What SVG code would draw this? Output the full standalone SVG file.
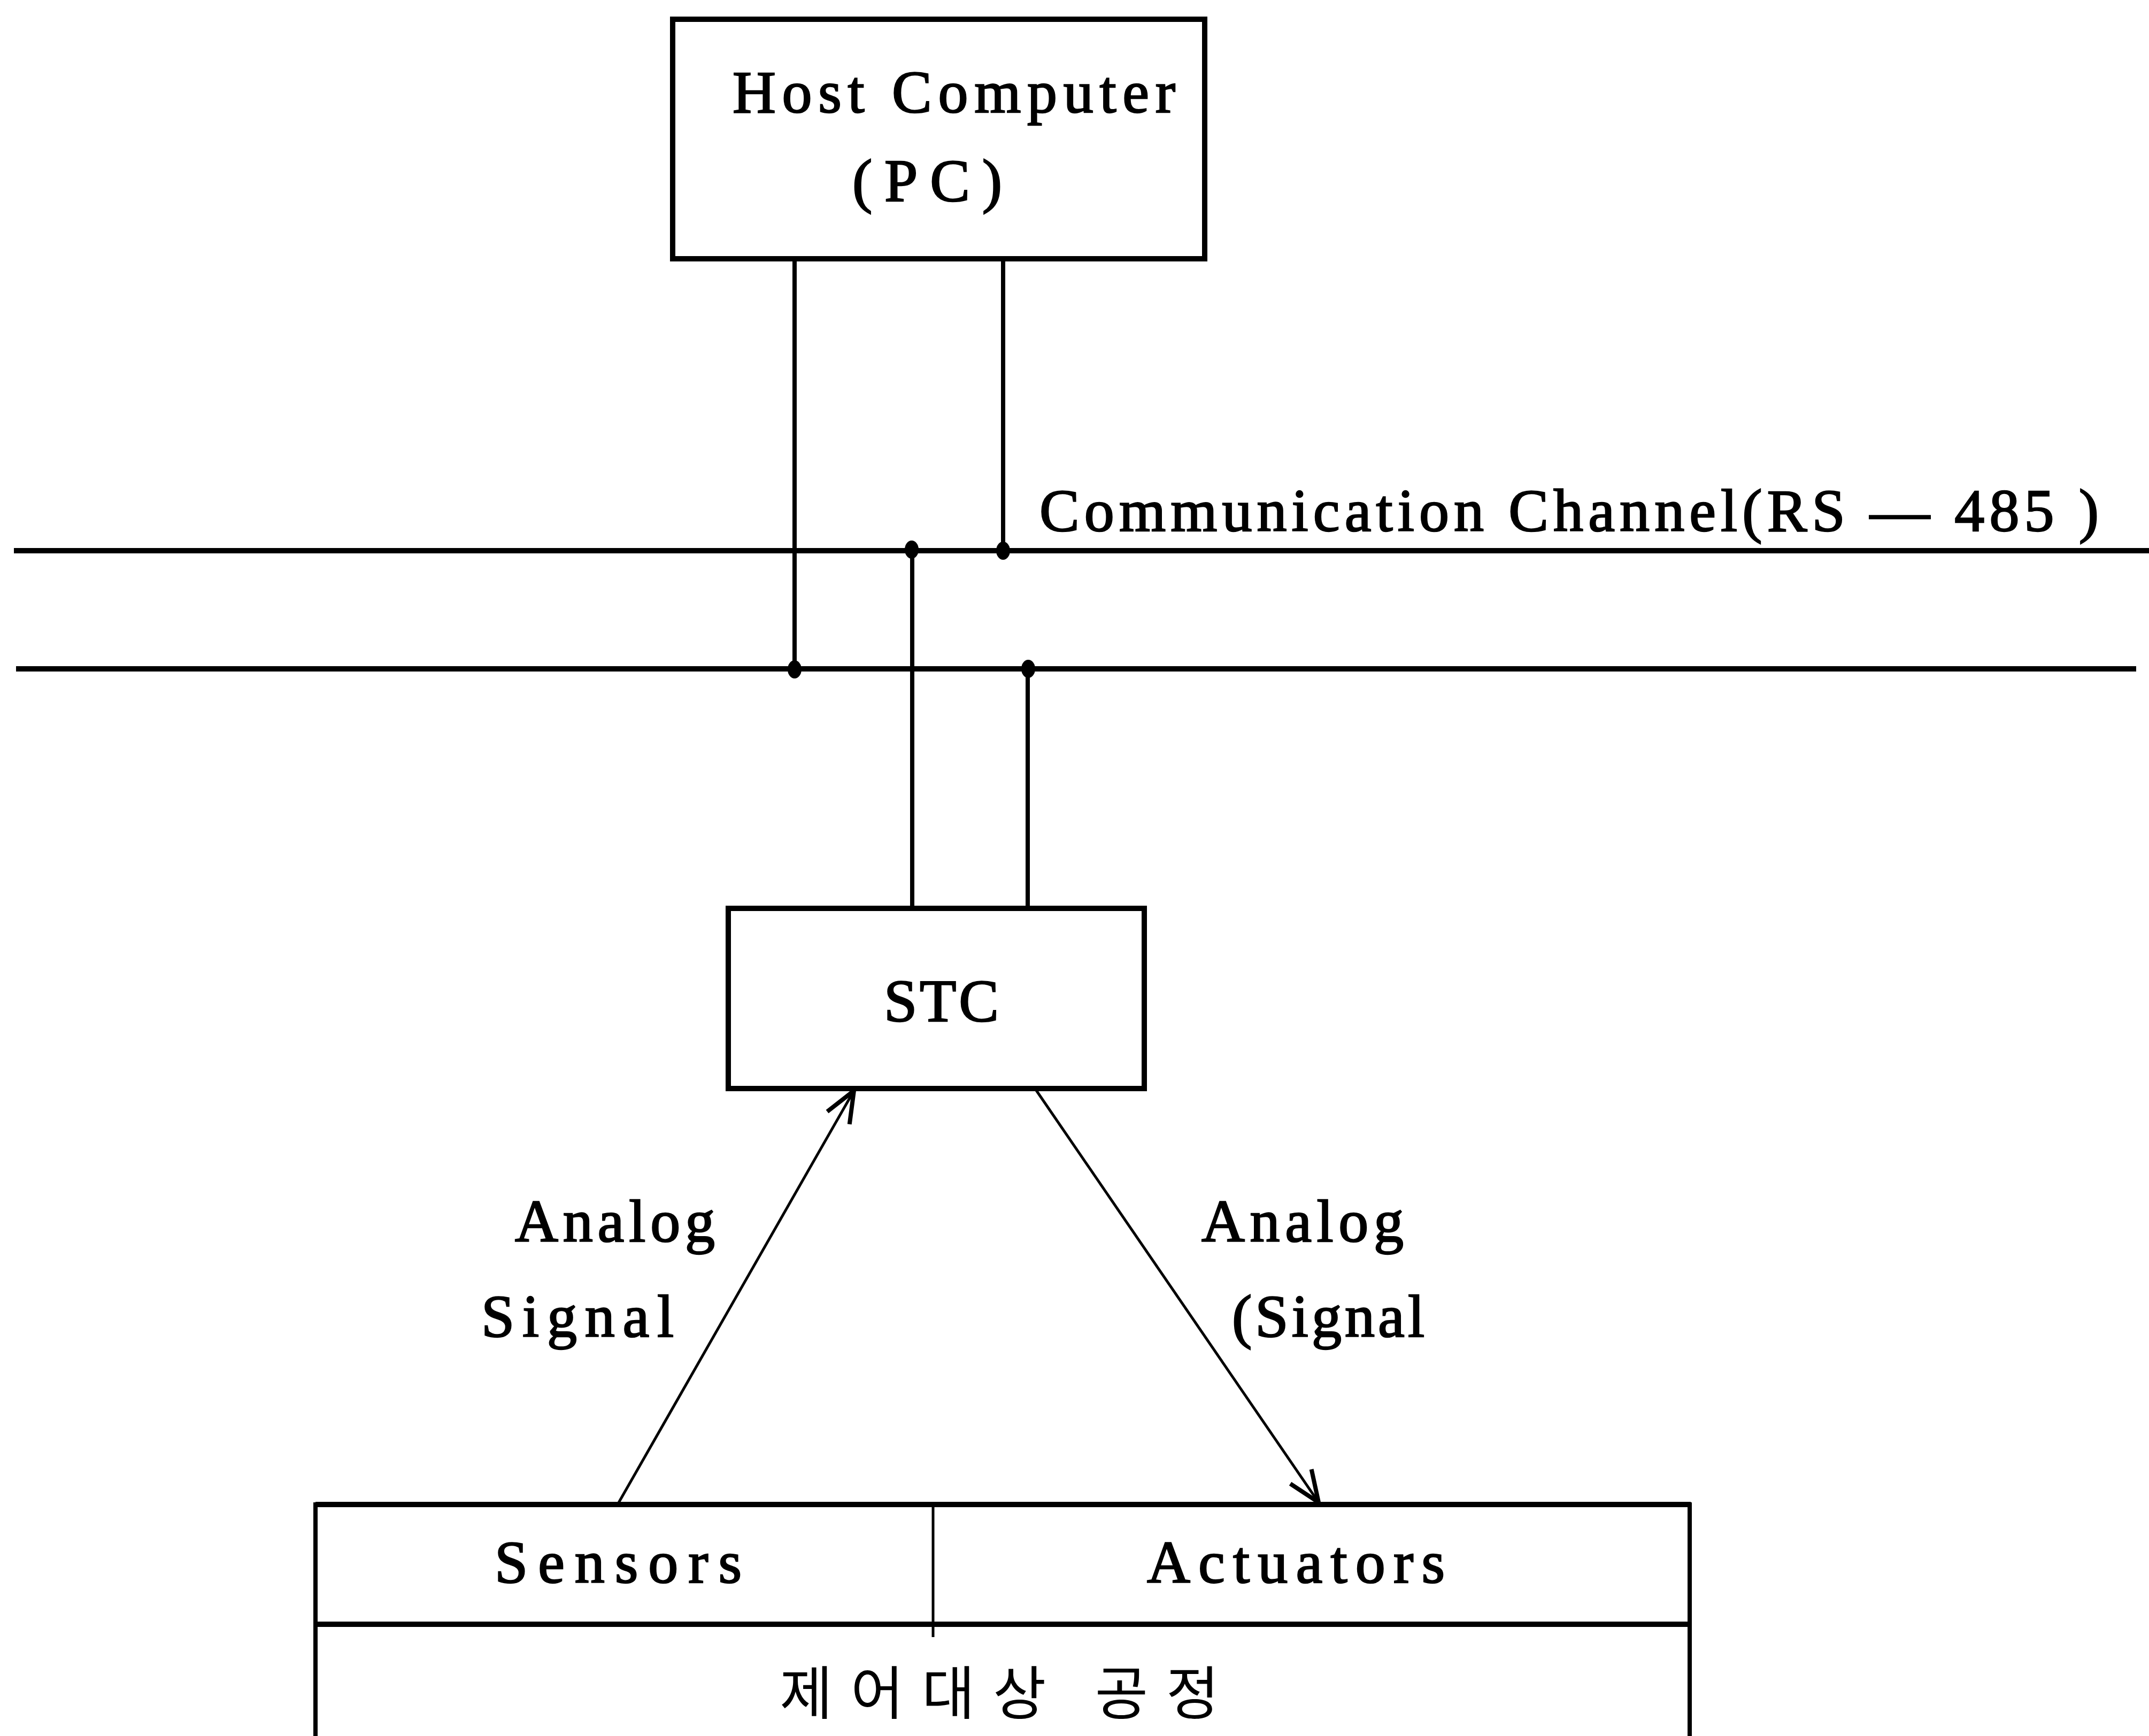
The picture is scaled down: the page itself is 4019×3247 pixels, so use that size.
<svg xmlns="http://www.w3.org/2000/svg" width="4019" height="3247" viewBox="0 0 4019 3247">
  <style>
    .box { fill: #fff; stroke: #000; stroke-width: 10; }
    .wire { fill: none; stroke: #000; stroke-width: 8; }
    .bus { fill: none; stroke: #000; stroke-width: 10; }
    .sig { fill: none; stroke: #000; stroke-width: 5; }
    .dot { fill: #000; }
    .lbl { font-family: "Liberation Serif", "DejaVu Serif", serif; font-size: 112px; fill: #000; stroke: #000; stroke-width: 2.5; }
    .kr { font-family: "Noto Sans CJK KR", sans-serif; font-size: 108px; fill: #000; }
  </style>
  <defs>
    <marker id="openArrow" markerUnits="userSpaceOnUse" markerWidth="80" markerHeight="80" viewBox="-50 -30 60 60" refX="0" refY="0" orient="auto">
      <path d="M -44 -18 L 0 0 L -44 18" fill="none" stroke="#000" stroke-width="6"/>
    </marker>
  </defs>
  <rect width="4019" height="3247" fill="#fff"/>

  <!-- RS-485 bus, vertical taps and signal arrows -->
  <g id="connectors">
    <line class="bus" x1="26" y1="1030" x2="4019" y2="1030"/>
    <line class="bus" x1="30" y1="1251" x2="3995" y2="1251"/>
    <line class="wire" x1="1486" y1="484" x2="1486" y2="1256"/>
    <line class="wire" x1="1876" y1="484" x2="1876" y2="1030"/>
    <line class="wire" x1="1706" y1="1030" x2="1706" y2="1699"/>
    <line class="wire" x1="1922" y1="1251" x2="1922" y2="1699"/>
    <ellipse class="dot" cx="1486" cy="1252" rx="13" ry="17"/>
    <ellipse class="dot" cx="1705" cy="1028" rx="13" ry="17"/>
    <ellipse class="dot" cx="1876" cy="1030" rx="13" ry="17"/>
    <ellipse class="dot" cx="1923" cy="1251" rx="13" ry="17"/>
    <line class="sig" x1="1155" y1="2814" x2="1597" y2="2040" marker-end="url(#openArrow)"/>
    <line class="sig" x1="1937" y1="2038" x2="2466" y2="2810" marker-end="url(#openArrow)"/>
  </g>

  <g id="host">
    <rect class="box" x="1258" y="36" width="995" height="448"/>
    <text class="lbl" x="1370" y="210" textLength="828" lengthAdjust="spacing">Host Computer</text>
    <text class="lbl" x="1594" y="376" textLength="280" lengthAdjust="spacing">(PC)</text>
  </g>

  <g id="bus-label">
    <text class="lbl" x="1944" y="993" textLength="1981" lengthAdjust="spacing">Communication Channel(RS — 485 )</text>
  </g>

  <g id="stc">
    <rect class="box" x="1362" y="1699" width="778" height="337"/>
    <text class="lbl" x="1653" y="1910" textLength="215" lengthAdjust="spacing">STC</text>
  </g>

  <g id="signal-labels">
    <text class="lbl" x="963" y="2322" textLength="374" lengthAdjust="spacing">Analog</text>
    <text class="lbl" x="900" y="2500" textLength="360" lengthAdjust="spacing">Signal</text>
    <text class="lbl" x="2247" y="2322" textLength="378" lengthAdjust="spacing">Analog</text>
    <text class="lbl" x="2304" y="2500" textLength="360" lengthAdjust="spacing">(Signal</text>
  </g>

  <g id="process">
    <line class="bus" x1="590" y1="2814" x2="3162" y2="2814"/>
    <line class="bus" x1="590" y1="3038" x2="3162" y2="3038"/>
    <line class="wire" x1="590" y1="2810" x2="590" y2="3247"/>
    <line class="wire" x1="3160" y1="2810" x2="3160" y2="3247"/>
    <line class="sig" x1="1745" y1="2814" x2="1745" y2="3062"/>
    <text class="lbl" x="925" y="2960" textLength="462" lengthAdjust="spacing">Sensors</text>
    <text class="lbl" x="2145" y="2960" textLength="557" lengthAdjust="spacing">Actuators</text>
    <text class="kr" x="1458" y="3206" textLength="822" lengthAdjust="spacing">제어대상 공정</text>
  </g>
</svg>
